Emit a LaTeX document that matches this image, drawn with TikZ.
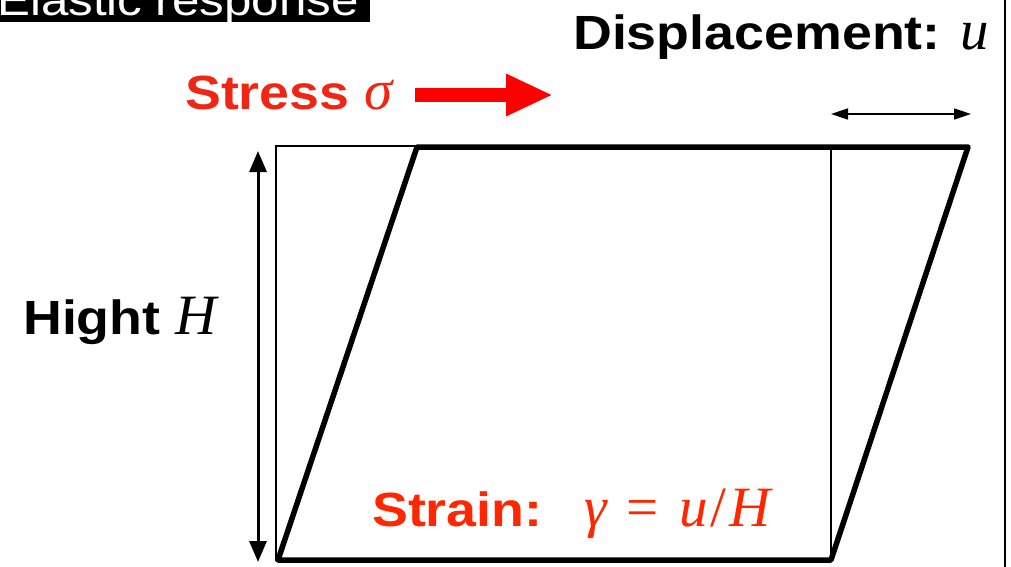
\documentclass[tikz,border=0pt]{standalone}
\usepackage{fontspec}
\usetikzlibrary{arrows.meta,positioning}
\newfontfamily\labfont{Liberation Sans}[FakeStretch=1.12]
\newfontfamily\varfont{Liberation Serif}
\newcommand{\mvar}[1]{{\varfont\mdseries\itshape\fontsize{57}{59}\selectfont #1}}
\newcommand{\mrm}[1]{{\varfont\mdseries\upshape\fontsize{57}{59}\selectfont #1}}
\definecolor{stressred}{RGB}{240,38,20}
\definecolor{strainred}{RGB}{255,38,0}

\begin{document}
\begin{tikzpicture}[x=1pt,y=-1pt,
    lab/.style={anchor=base west,inner sep=0pt,font=\labfont\bfseries\fontsize{48}{50}\selectfont},
    box/.style={line width=1.8pt},
    solid body/.style={line width=5.5pt,line join=round,line cap=round}]
        \useasboundingbox (0,0) rectangle (1011,567);
        \clip (0,0) rectangle (1011,567);
        % Define points
        \coordinate (BL) at (278,560);
        \coordinate (BR) at (831,560);
        \coordinate (TR) at (968,147);
        \coordinate (TL) at (417,147);
        \coordinate (R0) at (276,146);
        \coordinate (Htop) at (258,151);
        \coordinate (Hbot) at (258,562);
        \coordinate (Uleft) at (831,114);
        \coordinate (Uright) at (971,114);
        \coordinate (Sstart) at (415,95);
        \coordinate (Send) at (553,95);
        % Title tab
        \fill (-5,-30) rectangle (370,22);
        \node[anchor=base west,inner sep=0pt,white,font=\labfont\fontsize{44}{46}\selectfont]
            (title) at (-3,16) {Elastic response};
        % Frame line on the right
        \draw[line width=2pt] (1005,0) -- (1005,567);
        % Undeformed and sheared block
        \draw[box] (R0) rectangle (BR);
        \draw[solid body] (BL) -- (BR) -- (TR) -- (TL) -- cycle;
        % Arrows
        \draw[line width=3pt,{Triangle[length=21pt,width=17pt]}-{Triangle[length=21pt,width=17pt]}] (Htop) -- (Hbot);
        \draw[line width=1.6pt,{Triangle[length=17pt,width=11pt]}-{Triangle[length=17pt,width=11pt]}] (Uleft) -- (Uright);
        \draw[red,line width=14pt,-{Triangle[length=47pt,width=39pt]}] (Sstart) -- (Send);
        % Labels
        \node[lab] (disp) at (573,50) {Displacement: \mvar{u}};
        \node[lab,stressred] (stress) at (185,110) {Stress \mvar{σ}};
        \node[lab] (hight) at (23,334) {Hight \mvar{H}};
        \node[lab,strainred] (strain) at (372,526)
            {Strain:\hspace{42pt}\mvar{γ}\hspace{20pt}\mrm{=}\hspace{20pt}\mvar{u}\hspace{3pt}\mrm{/}\hspace{3pt}\mvar{H}};
      \end{tikzpicture}
\end{document}
